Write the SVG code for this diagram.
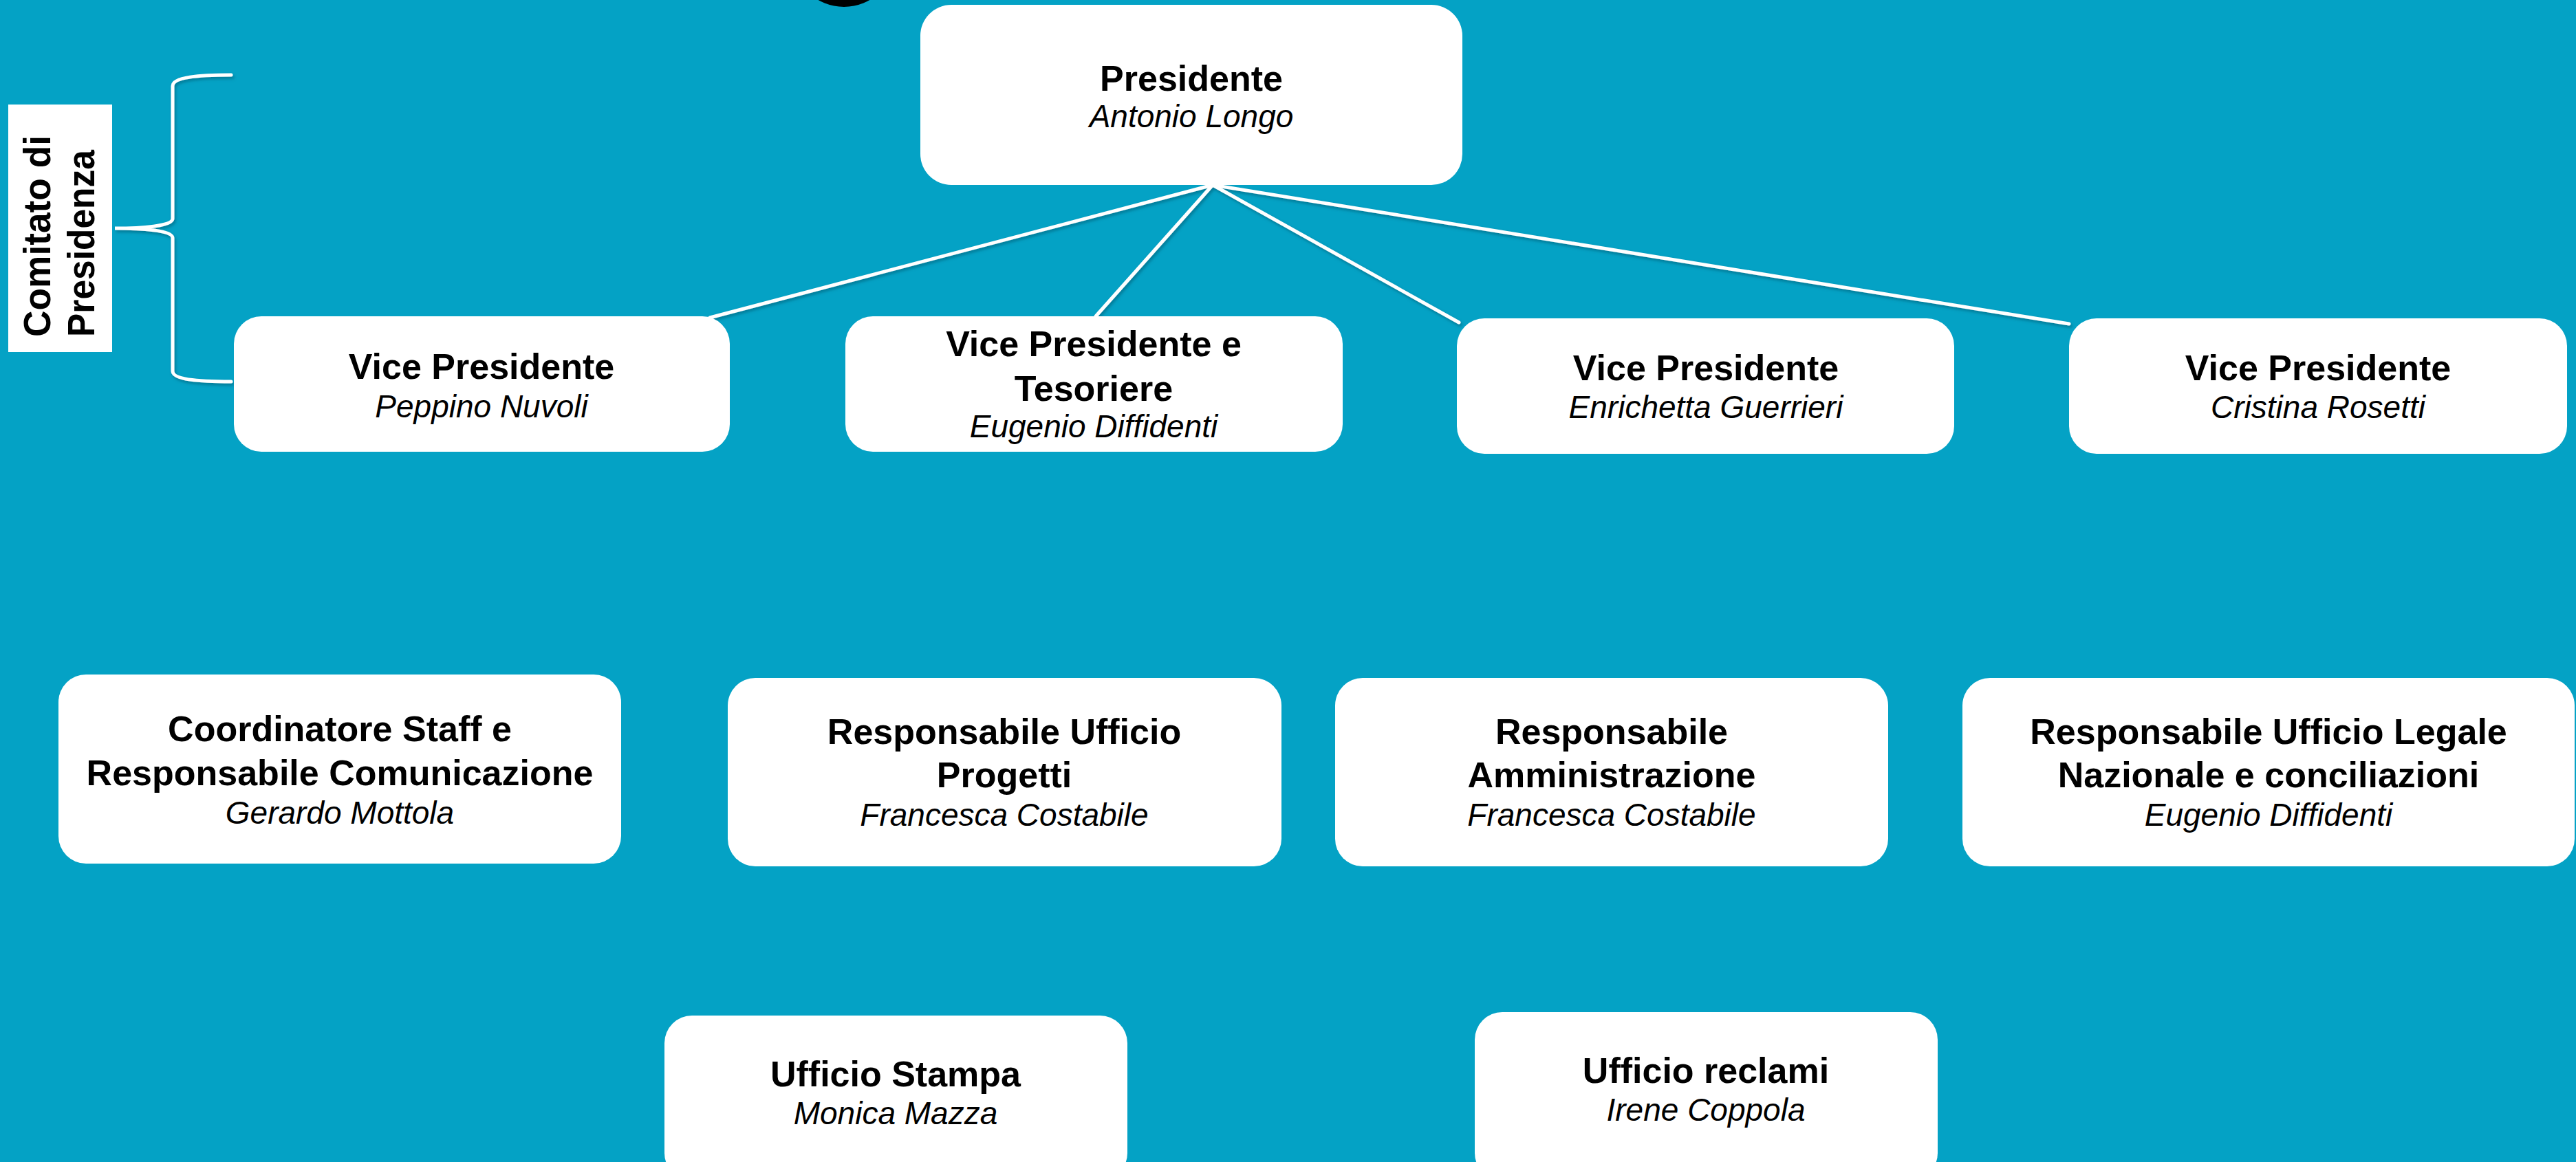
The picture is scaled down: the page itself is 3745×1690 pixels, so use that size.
<svg xmlns="http://www.w3.org/2000/svg" width="3745" height="1690" viewBox="0 0 3745 1690">
  <style>
    .box { fill: #ffffff; }
    .t { font-family: "Liberation Sans", Arial, sans-serif; font-weight: bold; font-size: 52px; fill: #000; text-anchor: middle; }
    .n { font-family: "Liberation Sans", Arial, sans-serif; font-style: italic; font-size: 46px; fill: #000; text-anchor: middle; }
    .lbl { font-family: "Liberation Sans", Arial, sans-serif; font-weight: bold; font-size: 56px; fill: #000; }
    .conn { stroke: #ffffff; stroke-width: 5; fill: none; stroke-linecap: round; }
  </style>
  <defs>
    <filter id="sh" x="-10%" y="-10%" width="120%" height="130%">
      <feDropShadow dx="2" dy="3" stdDeviation="2" flood-color="#00536a" flood-opacity="0.55"/>
    </filter>
  </defs>
  <rect x="0" y="0" width="3745" height="1690" fill="#04A2C5"/>
  <circle cx="1227" cy="-65" r="75" fill="#000"/>

  <g id="connectors" filter="url(#sh)">
    <line class="conn" x1="1763" y1="269" x2="1032" y2="462"/>
    <line class="conn" x1="1763" y1="269" x2="1593" y2="460"/>
    <line class="conn" x1="1763" y1="269" x2="2121" y2="469"/>
    <line class="conn" x1="1763" y1="269" x2="3008" y2="471"/>
    <path class="conn" d="M336,109 C290,109 251,112 251,125 L251,318 C251,329 205,332 167,332 C205,332 251,335 251,346 L251,540 C251,552 290,555 336,555"/>
  </g>

  <g id="comitato">
    <rect x="12" y="152" width="151" height="360" fill="#ffffff"/>
    <text class="lbl" transform="translate(73,490) rotate(-90)" textLength="293" lengthAdjust="spacingAndGlyphs">Comitato di</text>
    <text class="lbl" transform="translate(137,490) rotate(-90)" textLength="272" lengthAdjust="spacingAndGlyphs">Presidenza</text>
  </g>

  <g id="presidente">
    <rect class="box" x="1338" y="7" width="788" height="262" rx="45"/>
    <text class="t" x="1732" y="132">Presidente</text>
    <text class="n" x="1732" y="185">Antonio Longo</text>
  </g>

  <g id="vp-nuvoli">
    <rect class="box" x="340" y="460" width="721" height="197" rx="40"/>
    <text class="t" x="700" y="551">Vice Presidente</text>
    <text class="n" x="700" y="607">Peppino Nuvoli</text>
  </g>

  <g id="vp-diffidenti">
    <rect class="box" x="1229" y="460" width="723" height="197" rx="40"/>
    <text class="t" x="1590" y="518">Vice Presidente e</text>
    <text class="t" x="1590" y="583">Tesoriere</text>
    <text class="n" x="1590" y="636">Eugenio Diffidenti</text>
  </g>

  <g id="vp-guerrieri">
    <rect class="box" x="2118" y="463" width="723" height="197" rx="40"/>
    <text class="t" x="2480" y="553">Vice Presidente</text>
    <text class="n" x="2480" y="608">Enrichetta Guerrieri</text>
  </g>

  <g id="vp-rosetti">
    <rect class="box" x="3008" y="463" width="724" height="197" rx="40"/>
    <text class="t" x="3370" y="553">Vice Presidente</text>
    <text class="n" x="3370" y="608">Cristina Rosetti</text>
  </g>

  <g id="coordinatore">
    <rect class="box" x="85" y="981" width="818" height="275" rx="40"/>
    <text class="t" x="494" y="1078">Coordinatore Staff e</text>
    <text class="t" x="494" y="1142">Responsabile Comunicazione</text>
    <text class="n" x="494" y="1198">Gerardo Mottola</text>
  </g>

  <g id="progetti">
    <rect class="box" x="1058" y="986" width="805" height="274" rx="40"/>
    <text class="t" x="1460" y="1082">Responsabile Ufficio</text>
    <text class="t" x="1460" y="1145">Progetti</text>
    <text class="n" x="1460" y="1201">Francesca Costabile</text>
  </g>

  <g id="amministrazione">
    <rect class="box" x="1941" y="986" width="804" height="274" rx="40"/>
    <text class="t" x="2343" y="1082">Responsabile</text>
    <text class="t" x="2343" y="1145">Amministrazione</text>
    <text class="n" x="2343" y="1201">Francesca Costabile</text>
  </g>

  <g id="legale">
    <rect class="box" x="2853" y="986" width="890" height="274" rx="40"/>
    <text class="t" x="3298" y="1082">Responsabile Ufficio Legale</text>
    <text class="t" x="3298" y="1145">Nazionale e conciliazioni</text>
    <text class="n" x="3298" y="1201">Eugenio Diffidenti</text>
  </g>

  <g id="stampa">
    <rect class="box" x="966" y="1477" width="673" height="240" rx="40"/>
    <text class="t" x="1302" y="1580">Ufficio Stampa</text>
    <text class="n" x="1302" y="1635">Monica Mazza</text>
  </g>

  <g id="reclami">
    <rect class="box" x="2144" y="1472" width="673" height="245" rx="40"/>
    <text class="t" x="2480" y="1575">Ufficio reclami</text>
    <text class="n" x="2480" y="1630">Irene Coppola</text>
  </g>
</svg>
